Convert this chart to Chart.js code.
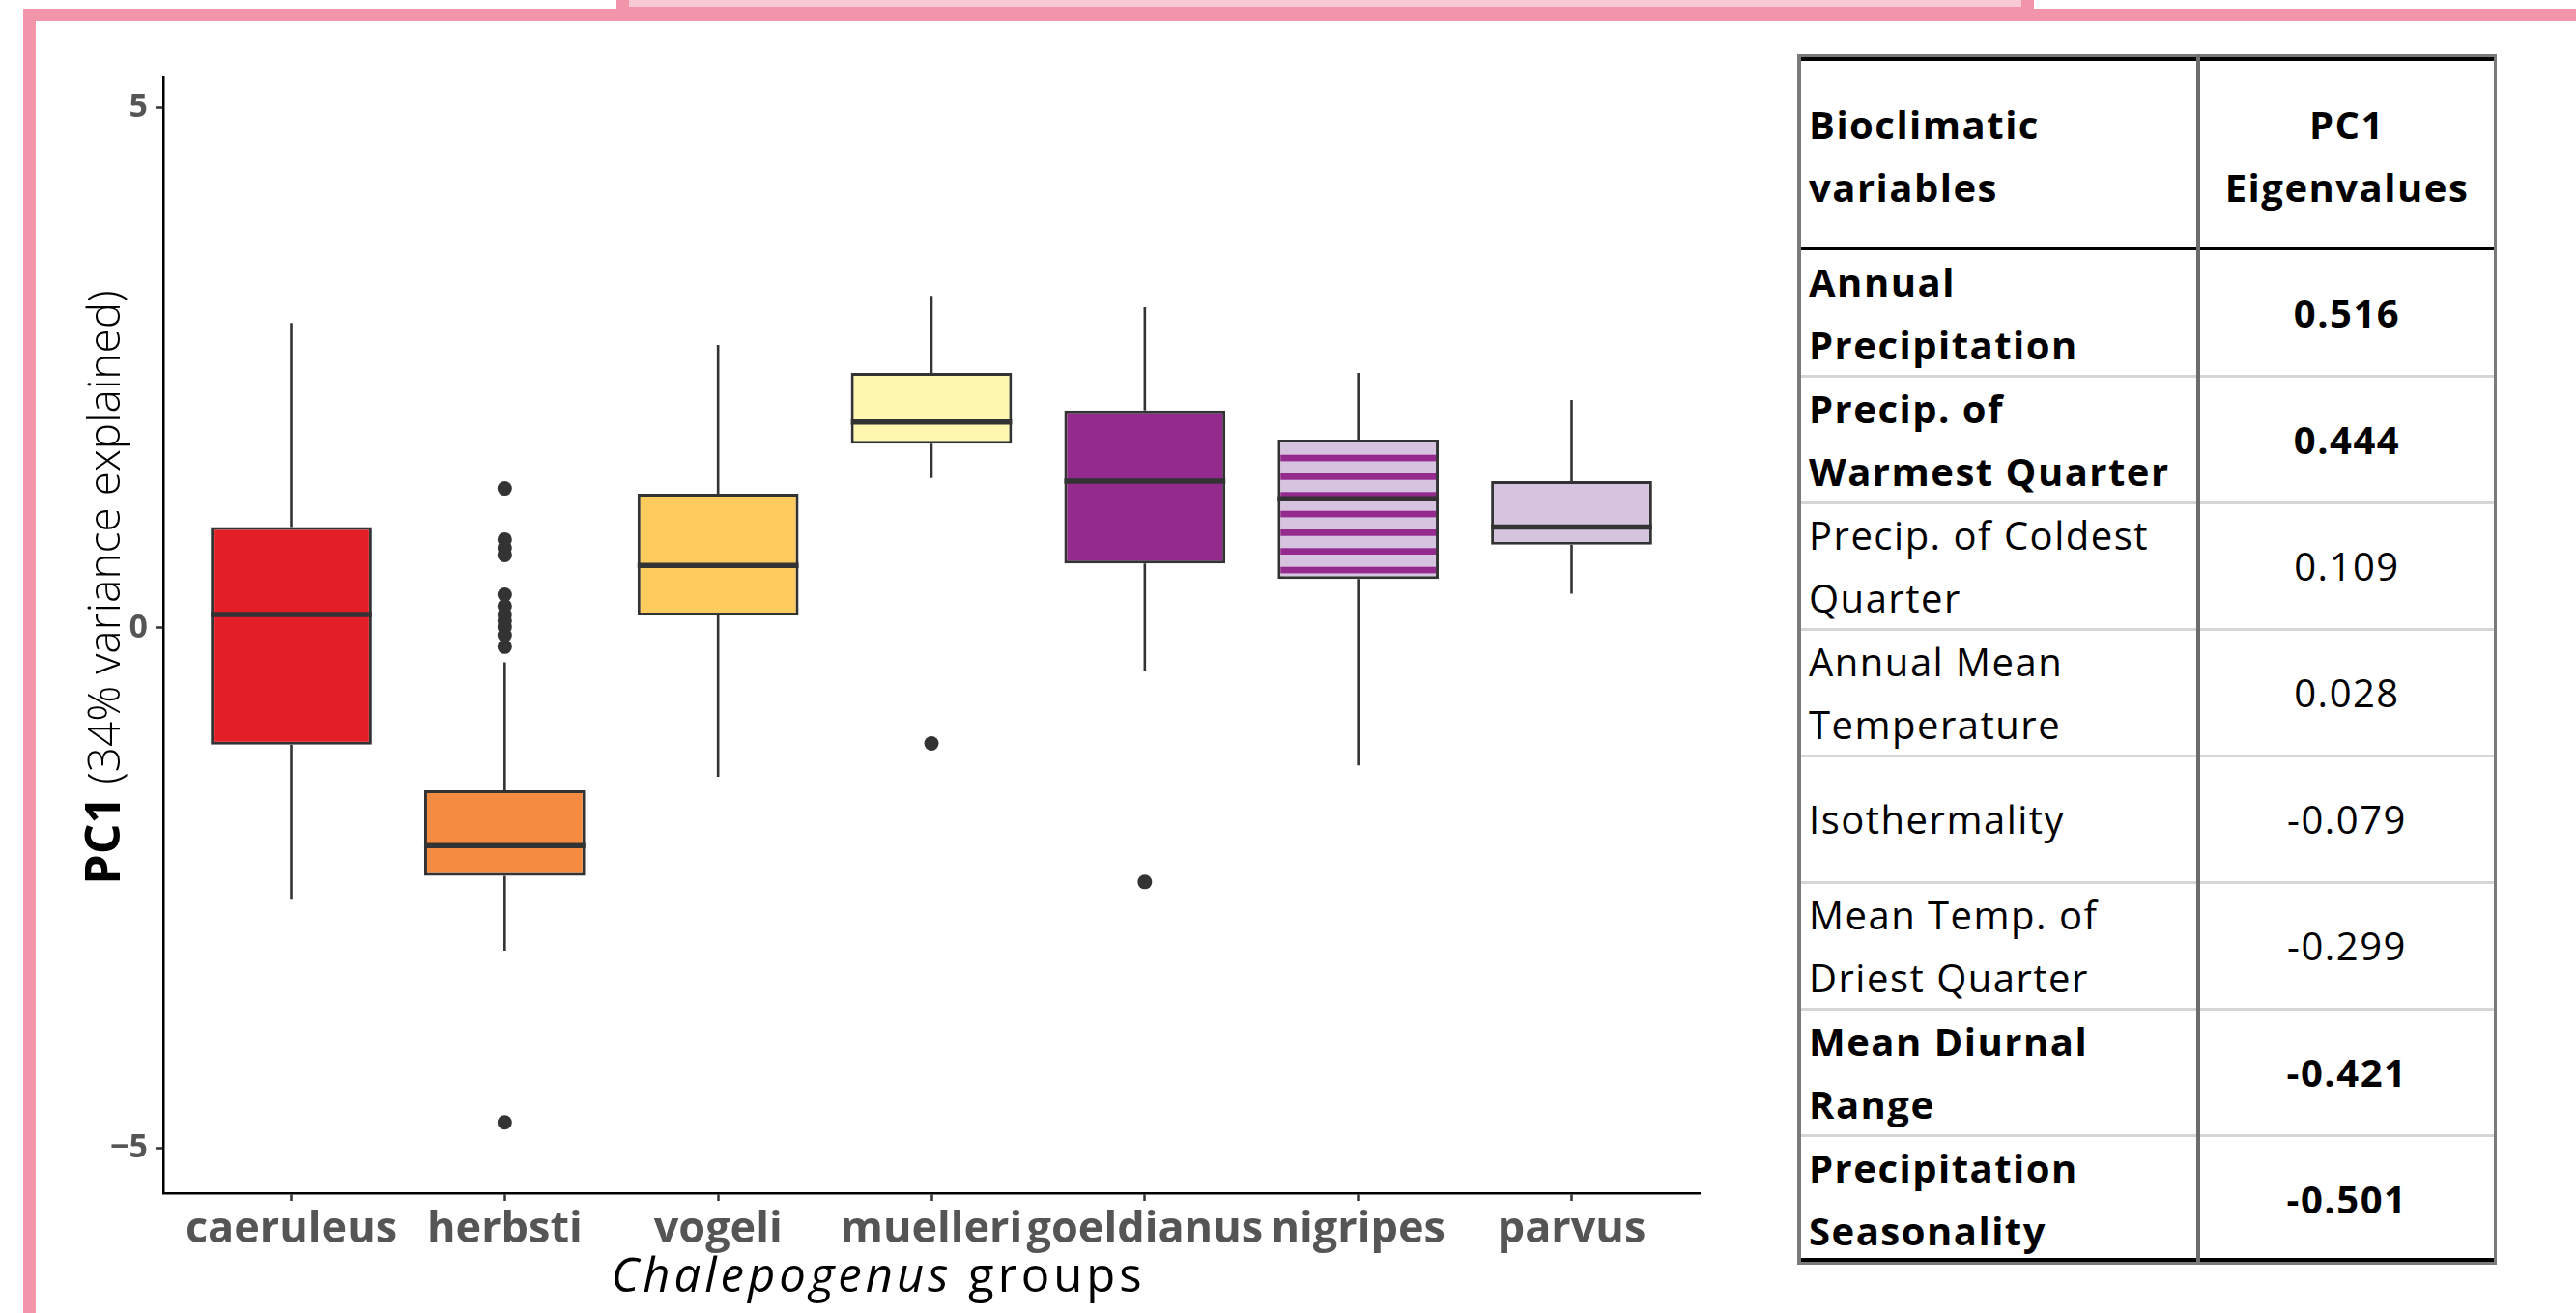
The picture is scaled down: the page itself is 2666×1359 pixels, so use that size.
<!DOCTYPE html>
<html>
<head>
<meta charset="utf-8">
<script src="https://cdn.jsdelivr.net/npm/chart.js@4.4.1/dist/chart.umd.min.js"></script>
<style>
  html, body { margin: 0; padding: 0; background: #fff; width: 2666px; height: 1359px; overflow: hidden; font-family: "Open Sans", sans-serif; }
  .frame { position: absolute; background: #f295aa; }
  #tab-inner { position: absolute; left: 651px; top: 0; width: 1441px; height: 7px; background: #f8c8d4; }
  #plot { position: absolute; left: 0; top: 0; }
  .cell { position: absolute; display: flex; align-items: center; white-space: pre-line; font-size: 40px; letter-spacing: 1.5px; line-height: 65px; color: #000; box-sizing: border-box; }
  .cell.left { justify-content: flex-start; padding-left: 9px; text-align: left; }
  .cell.right { justify-content: center; text-align: center; }
  .rule { position: absolute; }
</style>
</head>
<body>
<div class="frame" style="left:638px;top:0;width:1467px;height:22px;"></div>
<div id="tab-inner"></div>
<div class="frame" style="left:24px;top:9px;width:2642px;height:13px;"></div>
<div class="frame" style="left:24px;top:9px;width:13px;height:1350px;"></div>
<canvas id="plot" width="1840" height="1359"></canvas>
<div id="table"></div>
<script>
// PC1 scores per Chalepogenus group (box-plot summary)
const groups      = ['caeruleus', 'herbsti', 'vogeli', 'muelleri', 'goeldianus', 'nigripes', 'parvus'];
const whiskerLow  = [-2.61, -3.10, -1.43, 1.44, -0.41, -1.32, 0.33];
const q1          = [-1.12, -2.38,  0.12, 1.77,  0.62,  0.47, 0.80];
const median      = [ 0.13, -2.09,  0.60, 1.98,  1.41,  1.24, 0.97];
const q3          = [ 0.97, -1.56,  1.29, 2.45,  2.09,  1.81, 1.41];
const whiskerHigh = [ 2.93, -0.33,  2.72, 3.19,  3.08,  2.45, 2.19];

// outlying observations: group index and PC1 value
const outlierGroup = [1, 1, 1, 1, 1, 1, 1, 1, 1, 1, 1, 1, 3, 4];
const outlierValue = [1.34, 0.85, 0.77, 0.70, 0.32, 0.21, 0.13, 0.07, 0.01, -0.07, -0.18, -4.75, -1.11, -2.44];

const yTicks = [-5, 0, 5];

// loadings table
const tableHeader = ['Bioclimatic\nvariables', 'PC1\nEigenvalues'];
const bioVariables = ['Annual\nPrecipitation', 'Precip. of\nWarmest Quarter', 'Precip. of Coldest\nQuarter',
  'Annual Mean\nTemperature', 'Isothermality', 'Mean Temp. of\nDriest Quarter', 'Mean Diurnal\nRange',
  'Precipitation\nSeasonality'];
const eigenvalues = ['0.516', '0.444', '0.109', '0.028', '-0.079', '-0.299', '-0.421', '-0.501'];
const boldRows = [true, true, false, false, false, false, true, true];

// ---- table ----
(function buildTable() {
  const host = document.getElementById('table');
  const L = 1860, R = 2584, split = 2275, top = 56, headTop = 63, headBottom = 258, rowH = 131;
  const bottom = headBottom + rowH * bioVariables.length;
  function rule(x, y, w, h, c) {
    const d = document.createElement('div');
    d.className = 'rule';
    Object.assign(d.style, { left: x + 'px', top: y + 'px', width: w + 'px', height: h + 'px', background: c });
    host.appendChild(d);
  }
  function cell(text, x, y, w, h, side, bold) {
    const d = document.createElement('div');
    d.className = 'cell ' + side;
    Object.assign(d.style, { left: x + 'px', top: y + 'px', width: w + 'px', height: h + 'px', fontWeight: bold ? 700 : 400 });
    d.textContent = text;
    host.appendChild(d);
  }
  cell(tableHeader[0], L + 3, headTop, split - L - 5, headBottom - headTop, 'left', true);
  cell(tableHeader[1], split + 2, headTop, R - split - 5, headBottom - headTop, 'right', true);
  bioVariables.forEach((v, k) => {
    const y = headBottom + k * rowH;
    cell(v, L + 3, y, split - L - 5, rowH, 'left', boldRows[k]);
    cell(eigenvalues[k], split + 2, y, R - split - 5, rowH, 'right', boldRows[k]);
    if (k > 0) rule(L + 3, y - 1.5, R - L - 6, 3, '#d6d6d6');
  });
  // outer frame and strong rules
  rule(L, top, R - L, 3, '#7a7a7a');
  rule(L, top + 3, R - L, 4, '#000');
  rule(L, headBottom - 2, R - L, 2.5, '#000');
  rule(L, bottom - 4, R - L, 4, '#000');
  rule(L, bottom, R - L, 2.5, '#7a7a7a');
  rule(L, top, 3.5, bottom - top + 2.5, '#7a7a7a');
  rule(R - 3.5, top, 3.5, bottom - top + 2.5, '#7a7a7a');
  rule(split - 2, top, 4, bottom - top, '#6c6c6c');
})();

// ---- box plot ----
const canvas = document.getElementById('plot');
const ctx2d = canvas.getContext('2d');

function stripePattern() {
  const c = document.createElement('canvas');
  c.width = 8; c.height = 58;
  const g = c.getContext('2d');
  g.fillStyle = '#d6c3e0';
  g.fillRect(0, 0, 8, 58);
  g.fillStyle = '#952a8e';
  [6.7, 26, 45.3].forEach(s => g.fillRect(0, s, 8, 6.7));
  return ctx2d.createPattern(c, 'repeat');
}

const fills = ['#e31e26', '#f68c42', '#fecb5f', '#fdf7b0', '#952a8e', stripePattern(), '#d6c3e0'];

const boxWhiskers = {
  id: 'boxWhiskers',
  afterDatasetsDraw(chart) {
    const { ctx, scales: { x, y } } = chart;
    const bars = chart.getDatasetMeta(0).data;
    ctx.save();
    ctx.strokeStyle = '#333333';
    groups.forEach((g, i) => {
      const cx = x.getPixelForValue(i);
      ctx.lineWidth = 2.6;
      ctx.beginPath();
      ctx.moveTo(cx, y.getPixelForValue(q3[i]));
      ctx.lineTo(cx, y.getPixelForValue(whiskerHigh[i]));
      ctx.moveTo(cx, y.getPixelForValue(q1[i]));
      ctx.lineTo(cx, y.getPixelForValue(whiskerLow[i]));
      ctx.stroke();
      const half = bars[i].width / 2;
      const my = y.getPixelForValue(median[i]);
      ctx.lineWidth = 5.5;
      ctx.beginPath();
      ctx.moveTo(cx - half, my);
      ctx.lineTo(cx + half, my);
      ctx.stroke();
    });
    ctx.restore();
  }
};

const axisTitles = {
  id: 'axisTitles',
  afterDraw(chart) {
    const ctx = chart.ctx;
    ctx.save();
    // vertical title
    ctx.translate(124, 608);
    ctx.rotate(-Math.PI / 2);
    ctx.textBaseline = 'alphabetic';
    ctx.fillStyle = '#000';
    const a = 'PC1', b = ' (34% variance explained)';
    const fa = '700 50px "Open Sans"', fb = '300 46px "Open Sans"';
    ctx.font = fa;
    const wa = ctx.measureText(a).width;
    ctx.font = fb;
    const wb = ctx.measureText(b).width;
    const sx = -(wa + wb) / 2;
    ctx.font = fa;
    ctx.fillText(a, sx, 0);
    ctx.font = fb;
    ctx.fillText(b, sx + wa, 0);
    ctx.restore();

    // horizontal title
    ctx.save();
    ctx.fillStyle = '#000';
    ctx.textBaseline = 'alphabetic';
    ctx.letterSpacing = '4px';
    const c = 'Chalepogenus', d = ' groups';
    const fc = 'italic 400 49px "Open Sans"', fd = '400 49px "Open Sans"';
    ctx.font = fc;
    const wc = ctx.measureText(c).width;
    ctx.font = fd;
    const wd = ctx.measureText(d).width;
    const x0 = 909 - (wc + wd) / 2;
    ctx.font = fc;
    ctx.fillText(c, x0, 1337);
    ctx.font = fd;
    ctx.fillText(d, x0 + wc, 1337);
    ctx.restore();
  }
};

new Chart(ctx2d, {
  type: 'bar',
  data: {
    datasets: [
      {
        label: 'IQR',
        data: groups.map((g, i) => ({ x: i, y: [q1[i], q3[i]] })),
        backgroundColor: fills,
        borderColor: '#333333',
        borderWidth: 3,
        borderSkipped: false,
        barPercentage: 0.755,
        categoryPercentage: 1.0,
        order: 2
      },
      {
        type: 'scatter',
        label: 'outliers',
        data: outlierValue.map((v, k) => ({ x: outlierGroup[k], y: v })),
        backgroundColor: '#333333',
        borderWidth: 0,
        pointRadius: 7.5,
        order: 1
      }
    ]
  },
  options: {
    responsive: false,
    animation: false,
    devicePixelRatio: 1,
    layout: { padding: { top: 80, right: 81, left: 0, bottom: 0 } },
    plugins: { legend: { display: false }, tooltip: { enabled: false } },
    scales: {
      x: {
        type: 'linear',
        offset: false,
        min: -0.6,
        max: 6.6,
        afterBuildTicks: s => { s.ticks = groups.map((g, i) => ({ value: i })); },
        afterFit: s => { s.height = 124; },
        ticks: {
          autoSkip: false,
          maxRotation: 0,
          padding: 3,
          color: '#555555',
          font: { family: 'Open Sans', size: 45, weight: '700' },
          callback: v => groups[v]
        },
        grid: { offset: false, drawOnChartArea: false, drawTicks: true, tickLength: 8, tickColor: '#333333', tickWidth: 2.5 },
        border: { display: true, color: '#000', width: 2.5 }
      },
      y: {
        type: 'linear',
        min: -5.43,
        max: 5.29,
        afterBuildTicks: s => { s.ticks = yTicks.map(v => ({ value: v })); },
        afterFit: s => { s.width = 169; },
        ticks: {
          padding: 8,
          color: '#555555',
          font: { family: 'Open Sans', size: 34, weight: '700' },
          callback: v => (v < 0 ? '\u2212' + Math.abs(v) : String(v))
        },
        grid: { drawOnChartArea: false, drawTicks: true, tickLength: 8, tickColor: '#333333', tickWidth: 2.5 },
        border: { display: true, color: '#000', width: 2.5 }
      }
    }
  },
  plugins: [boxWhiskers, axisTitles]
});
</script>
</body>
</html>
